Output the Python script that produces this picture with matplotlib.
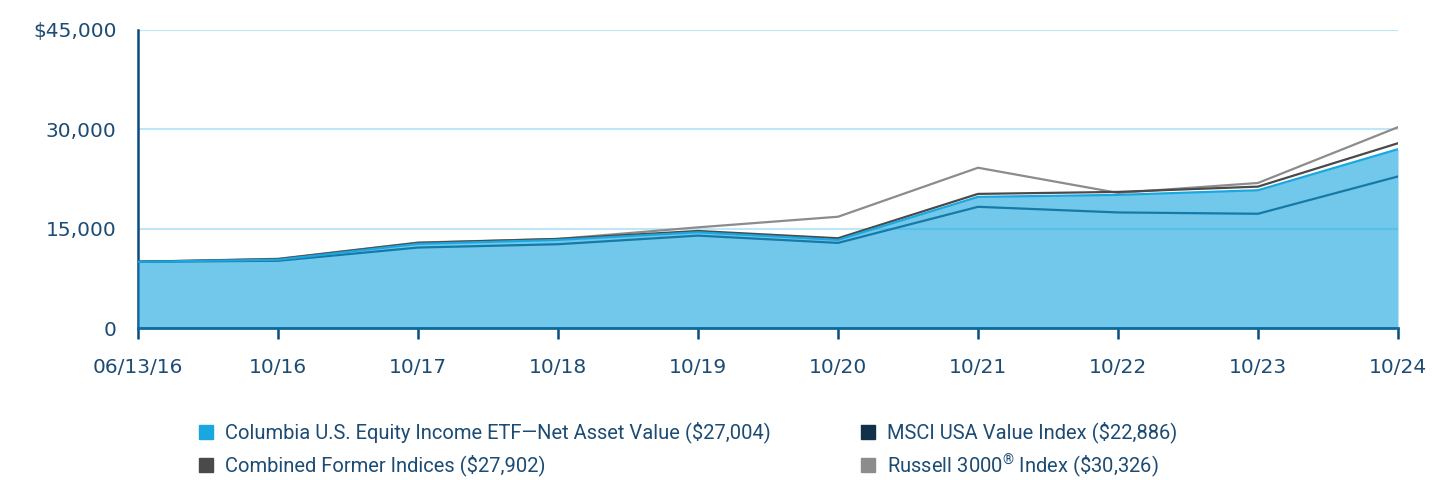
import matplotlib
matplotlib.use("Agg")
import matplotlib.pyplot as plt
from matplotlib.patches import Rectangle

plt.rcParams["mathtext.fontset"] = "custom"
plt.rcParams["mathtext.rm"] = "Roboto"
plt.rcParams["mathtext.it"] = "Roboto:italic"
plt.rcParams["mathtext.bf"] = "Roboto:bold"

# values
dates = ["06/13/16", "10/16", "10/17", "10/18", "10/19", "10/20",
         "10/21", "10/22", "10/23", "10/24"]
fund = [10000, 10300, 12700, 13300, 14450, 13300, 19800, 20100, 20800, 27004]
msci = [10000, 10150, 12150, 12650, 13950, 12850, 18300, 17450, 17250, 22886]
combined = [10000, 10400, 12850, 13450, 14650, 13550, 20250, 20550, 21350, 27902]
russell = [10000, 10450, 12900, 13450, 15200, 16800, 24200, 20400, 21900, 30326]

labels = ["Columbia U.S. Equity Income ETF\u2014Net Asset Value ($27,004)",
          "Combined Former Indices ($27,902)",
          "MSCI USA Value Index ($22,886)",
          "Russell 3000$^{\\mathrm{\u00ae}}$ Index (\\$30,326)"]

c_fund = "#1aa7e0"
c_msci = "#12304a"
c_comb = "#4a4a4a"
c_russ = "#8c8c8c"
c_text = "#1c4b73"
c_axis = "#0b4a7c"
c_grid = "#bfe6f7"

W, H = 1452, 480
fig = plt.figure(figsize=(W / 100, H / 100), dpi=100)
ax = fig.add_axes([138 / W, 1 - 328 / H, 1260 / W, 298 / H])

x = list(range(len(dates)))

ax.plot(x, russell, color=c_russ, lw=1.6, zorder=3)
ax.plot(x, combined, color=c_comb, lw=1.6, zorder=3)
ax.plot(x, msci, color=c_msci, lw=1.6, zorder=3)
ax.fill_between(x, 0, fund, color=c_fund, alpha=0.62, lw=0, zorder=4)
ax.plot(x, fund, color=c_fund, lw=1.6, zorder=5)

ax.set_xlim(0, len(dates) - 1)
ax.set_ylim(0, 45000)
ax.set_yticks([0, 15000, 30000, 45000])
ax.set_yticklabels(["0", "15,000", "30,000", "$45,000"])
ax.set_xticks(x)
ax.set_xticklabels(dates)
ax.grid(axis="y", color=c_grid, lw=1.5, zorder=1)
ax.set_axisbelow(True)

for s in ["top", "right"]:
    ax.spines[s].set_visible(False)
ax.spines["left"].set_color(c_axis)
ax.spines["left"].set_linewidth(1.8)
ax.spines["bottom"].set_color("#0f6a9c")
ax.spines["bottom"].set_linewidth(2)
ax.spines["bottom"].set_zorder(6)

ax.tick_params(axis="y", length=0, pad=15.5, labelsize=14.5, labelcolor=c_text)
ax.tick_params(axis="x", length=8, width=1.8, color=c_axis, pad=13.5,
               labelsize=14.5, labelcolor=c_text)
for t in ax.get_xticklabels() + ax.get_yticklabels():
    t.set_family("DejaVu Sans")

# legend laid out by hand: two columns, two rows
colors = [c_fund, c_comb, c_msci, c_russ]
col_x = [199, 861]
row_y = [432, 465]
for i, (lab, c) in enumerate(zip(labels, colors)):
    lx = col_x[i // 2]
    ly = row_y[i % 2]
    fig.patches.append(Rectangle((lx / W, 1 - (ly + 7) / H), 14 / W, 14 / H,
                                 transform=fig.transFigure, color=c))
    fig.text((lx + 26) / W, 1 - (ly - 2) / H, lab, ha="left", va="center_baseline",
             fontsize=14.5, family="Roboto", color=c_text)

fig.savefig("out.png", dpi=100)
